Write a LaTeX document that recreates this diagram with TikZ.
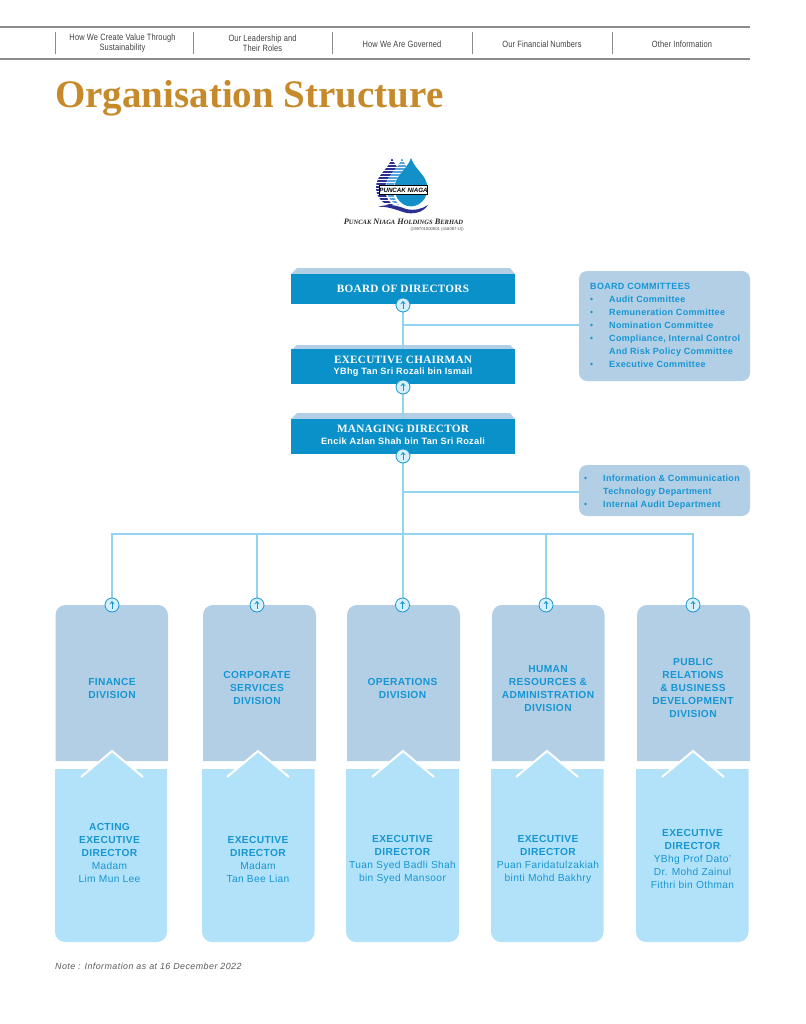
\documentclass[tikz,border=0pt]{standalone}
\usepackage{fontspec}
\setmainfont{Liberation Sans}
\newfontfamily\lab[LetterSpace=3.5]{Liberation Sans}
\newfontfamily\sidef[LetterSpace=3.5]{Liberation Sans}
\newfontfamily\serf[LetterSpace=2.5]{Liberation Serif}
\newfontfamily\ttl{Liberation Serif}
\newfontfamily\hdr[FakeStretch=0.82,LetterSpace=1.5]{Liberation Sans}
\newfontfamily\notef[LetterSpace=5]{Liberation Sans}
\usetikzlibrary{arrows.meta}
\definecolor{deep}{HTML}{0A91C9}
\definecolor{pale}{HTML}{B3CFE6}
\definecolor{sky}{HTML}{B2E2F9}
\definecolor{ink}{HTML}{1796D3}
\definecolor{wire}{HTML}{93D5F0}
\definecolor{gold}{HTML}{C68A2A}
\definecolor{rulegrey}{HTML}{8C8C8C}
\definecolor{navy}{HTML}{2B2F8F}
\definecolor{dropblue}{HTML}{1390C8}
\pgfdeclarelayer{conn}
\pgfsetlayers{conn,main}
\tikzset{
  x=1pt,y=-1pt,
  hdrtext/.style={font=\hdr\fontsize{9.1}{10}\selectfont,text=black!75,align=center,inner sep=0},
  sep/.style={rulegrey,line width=1pt},
  toprule/.style={rulegrey,line width=1.4pt},
  bodybox/.style={fill=deep,minimum width=224pt,anchor=north,inner sep=0,align=center,text=white},
  bevel/.style={fill=pale},
  headline/.style={font=\serf\bfseries\fontsize{11.2}{13}\selectfont},
  wireline/.style={wire,line width=1.2pt},
  updot/.style={circle,draw=ink,line width=0.8pt,fill=sky!55,minimum size=14pt,inner sep=0},
  sidebox/.style={fill=pale,rounded corners=8pt},
  sidetext/.style={font=\sidef\bfseries\fontsize{9}{13}\selectfont,text=ink,anchor=base west,inner sep=0},
  divbox/.style={fill=pale},
  dirbox/.style={fill=sky},
  divtext/.style={font=\lab\bfseries\fontsize{10.2}{13}\selectfont,text=ink,align=center,inner sep=0},
  dirtext/.style={font=\lab\fontsize{10.2}{13}\selectfont,text=ink,align=center,inner sep=0},
  nametext/.style={font=\lab\bfseries\fontsize{9.15}{12}\selectfont,text=white,inner sep=0},
}
\newcommand{\updotnode}[2]{%
  \node[updot] (#1) at (#2) {};
  \draw[ink,line width=0.7pt,-{Stealth[length=3pt,width=5pt]}] ([yshift=-3.8pt]#1.center) -- ([yshift=4pt]#1.center);}
\newcommand{\dropshape}[3]{% apex x, apex y, radius
  (#1,#2) .. controls (#1+0.25*#3,#2+0.75*#3) and (#1+#3,#2+1.05*#3) .. (#1+#3,#2+1.85*#3)
  .. controls (#1+#3,#2+2.45*#3) and (#1+0.55*#3,#2+2.95*#3) .. (#1,#2+2.95*#3)
  .. controls (#1-0.55*#3,#2+2.95*#3) and (#1-#3,#2+2.45*#3) .. (#1-#3,#2+1.85*#3)
  .. controls (#1-#3,#2+1.05*#3) and (#1-0.25*#3,#2+0.75*#3) .. (#1,#2) -- cycle}
\newcommand{\stripes}[2]{%
  \foreach \yy in {160,163,...,206} {\draw[#2,line width=1.6pt] (350,\yy) -- (#1,\yy);}}
\newcommand{\column}[6]{% upper L, upper R, lower L, lower R, apex x
  \path[divbox] (#1,761) [rounded corners=10pt] -- (#1,605) -- (#2,605) [sharp corners] -- (#2,761) -- cycle;
  \path[dirbox] (#3,769) [rounded corners=10pt] -- (#3,942) -- (#4,942) [sharp corners] -- (#4,769) -- cycle;
  \path[dirbox] (#5-31,777) -- (#5,751) -- (#5+31,777) -- cycle;
  \draw[white,line width=2pt] (#5-31,777) -- (#5,751) -- (#5+31,777);
}
\begin{document}
\begin{tikzpicture}
\useasboundingbox (0,0) rectangle (805,1024);
% header
\draw[toprule] (0,27) -- (750,27);
\draw[toprule] (0,59) -- (750,59);
\foreach \xx in {55,193,332,472,612} {\draw[sep] (\xx,32) -- (\xx,54);}
\node[hdrtext] (h1) at (122.5,43.5) {How We Create Value Through\\Sustainability};
\node[hdrtext] (h2) at (262.5,43.5) {Our Leadership and\\Their Roles};
\node[hdrtext] (h3) at (402,44) {How We Are Governed};
\node[hdrtext] (h4) at (542,44) {Our Financial Numbers};
\node[hdrtext] (h5) at (682,44) {Other Information};
\node[font=\ttl\bfseries\fontsize{39}{40}\selectfont,text=gold,anchor=base west,inner sep=0] (title) at (55,108) {Organisation Structure};
% logo
\begin{scope}
\clip \dropshape{392}{158}{16};
\stripes{430}{navy}
\end{scope}
\fill[white] \dropshape{402}{158}{16.8};
\begin{scope}
\clip \dropshape{402}{158}{16};
\stripes{430}{cyan!70!blue!70}
\end{scope}
\fill[white] \dropshape{411}{158}{17.6};
\fill[dropblue] \dropshape{411}{158}{16.4};
\fill[navy] (378,207) .. controls (390,203) and (398,206) .. (406,209) .. controls (414,211) and (422,209) .. (428,205) .. controls (423,213) and (412,215) .. (403,212) .. controls (394,209) and (386,206) .. (378,207) -- cycle;
\node[draw=black,line width=0.4pt,fill=white,minimum width=43pt,minimum height=9pt,inner sep=0,font=\bfseries\itshape\fontsize{6.2}{8}\selectfont] (logotext) at (403.5,190) {PUNCAK NIAGA};
\node[font=\ttl\bfseries\itshape\fontsize{8.3}{9}\selectfont,text=black!85,anchor=base,inner sep=0] (logoname) at (403.5,225) {P{\fontsize{6.5}{9}\selectfont UNCAK} N{\fontsize{6.5}{9}\selectfont IAGA} H{\fontsize{6.5}{9}\selectfont OLDINGS} B{\fontsize{6.5}{9}\selectfont ERHAD}};
\node[font=\fontsize{4.2}{5}\selectfont,text=black!70,anchor=base east,inner sep=0] (logoreg) at (464,230) {(199701000501 (416087-U))};
% bevels
\begin{pgfonlayer}{conn}
\path[bevel] (291,274) -- (297,268) -- (510,268) -- (515,274) -- cycle;
\path[bevel] (291,350) -- (297,345) -- (510,345) -- (515,350) -- cycle;
\path[bevel] (291,419) -- (297,413) -- (510,413) -- (515,419) -- cycle;
\end{pgfonlayer}
% head boxes
\node[bodybox,minimum height=30.5pt] (board) at (403,273.5) {};
\node[bodybox,minimum height=35pt] (chair) at (403,349) {};
\node[bodybox,minimum height=35pt] (md) at (403,418.5) {};
\node[headline,text=white,inner sep=0] (boardt) at (403,289) {BOARD OF DIRECTORS};
\node[headline,text=white,inner sep=0] (chairt) at (403,360) {EXECUTIVE CHAIRMAN};
\node[nametext] (chairn) at (403,372.5) {YBhg Tan Sri Rozali bin Ismail};
\node[headline,text=white,inner sep=0] (mdt) at (403,429) {MANAGING DIRECTOR};
\node[nametext] (mdn) at (403,441.5) {Encik Azlan Shah bin Tan Sri Rozali};
% side boxes
\node[sidebox,minimum width=171pt,minimum height=110pt,inner sep=0] (committees) at (664.5,326) {};
\node[sidebox,minimum width=171pt,minimum height=51pt,inner sep=0] (depts) at (664.5,490.5) {};
\node[sidetext] (ct0) at (590,289.3) {BOARD COMMITTEES};
\foreach \yy/\tt in {302.3/Audit Committee,315.3/Remuneration Committee,328.3/Nomination Committee,341.3/{Compliance, Internal Control},354.3/And Risk Policy Committee,367.3/Executive Committee}{
  \node[sidetext] at (609,\yy) {\tt};}
\foreach \yy in {299,312,325,338,364}{\fill[ink] (591.5,\yy) circle[radius=1.3];}
\foreach \yy/\tt in {481.3/Information \& Communication,494.3/Technology Department,507.3/Internal Audit Department}{
  \node[sidetext] at (603,\yy) {\tt};}
\foreach \yy in {478,504}{\fill[ink] (585.5,\yy) circle[radius=1.3];}
% columns
\column{55.5}{168}{55}{167}{112}{}
\column{203}{316}{202}{314.5}{258}{}
\column{347}{460}{346}{459}{403}{}
\column{492}{604.5}{491}{603.5}{547}{}
\column{637}{750}{636}{748.5}{693}{}
\node[divtext] (d1) at (112,688.2) {FINANCE\\DIVISION};
\node[divtext] (d2) at (257,688.2) {CORPORATE\\SERVICES\\DIVISION};
\node[divtext] (d3) at (402.5,688.2) {OPERATIONS\\DIVISION};
\node[divtext] (d4) at (548,688.2) {HUMAN\\RESOURCES \&\\ADMINISTRATION\\DIVISION};
\node[divtext] (d5) at (693,688.2) {PUBLIC\\RELATIONS\\\& BUSINESS\\DEVELOPMENT\\DIVISION};
\node[dirtext] (e1) at (109.5,852.5) {\bfseries ACTING\\\bfseries EXECUTIVE\\\bfseries DIRECTOR\\Madam\\Lim Mun Lee};
\node[dirtext] (e2) at (258,859) {\bfseries EXECUTIVE\\\bfseries DIRECTOR\\Madam\\Tan Bee Lian};
\node[dirtext] (e3) at (402.5,859) {\bfseries EXECUTIVE\\\bfseries DIRECTOR\\Tuan Syed Badli Shah\\bin Syed Mansoor};
\node[dirtext] (e4) at (548,859) {\bfseries EXECUTIVE\\\bfseries DIRECTOR\\Puan Faridatulzakiah\\binti Mohd Bakhry};
\node[dirtext] (e5) at (692.5,858.5) {\bfseries EXECUTIVE\\\bfseries DIRECTOR\\YBhg Prof Dato’\\Dr. Mohd Zainul\\Fithri bin Othman};
% connector dots
\updotnode{u1}{403,305}
\updotnode{u2}{403,387}
\updotnode{u3}{403,456}
\updotnode{ua}{112,605}
\updotnode{ub}{257,605}
\updotnode{uc}{402.5,605}
\updotnode{ud}{546,605}
\updotnode{ue}{693,605}
\coordinate (busy) at (403,534);
\coordinate (cjoin) at (579,325);
\coordinate (djoin) at (579,492);
\begin{pgfonlayer}{conn}
\draw[wireline] (u1) -- (chair.north);
\draw[wireline] (u2) -- (md.north);
\draw[wireline] (u3) -- (u3 |- uc);
\draw[wireline] (u1 |- cjoin) -- (cjoin);
\draw[wireline] (u3 |- djoin) -- (djoin);
\draw[wireline] (ua) -- (ua |- busy) -- (ue |- busy) -- (ue);
\draw[wireline] (ub) -- (ub |- busy);
\draw[wireline] (ud) -- (ud |- busy);
\end{pgfonlayer}
\node[font=\notef\itshape\fontsize{8.9}{10}\selectfont,text=black!65,anchor=base west,inner sep=0] (note) at (55,969) {Note : Information as at 16 December 2022};
\end{tikzpicture}
\end{document}
